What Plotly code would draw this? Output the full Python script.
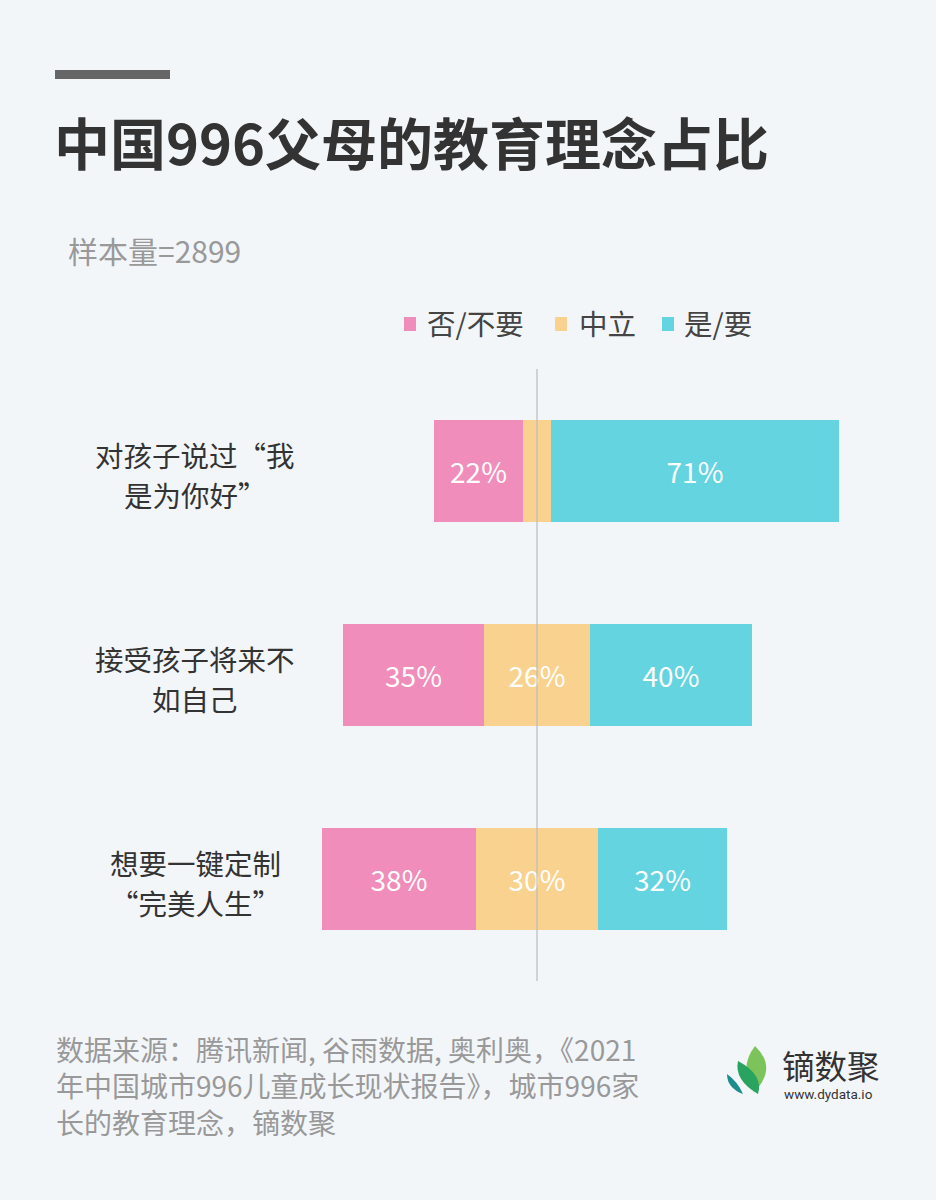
import plotly.graph_objects as go

W, H = 936, 1200
FONT = "Noto Sans CJK SC"

categories = ["对孩子说过“我<br>是为你好”", "接受孩子将来不<br>如自己", "想要一键定制<br>“完美人生”"]
neg_vals = [22, 35, 38]
neu_vals = [7, 26, 30]
pos_vals = [71, 40, 32]
series_names = ["否/不要", "中立", "是/要"]
colors = ["#F08DBA", "#FAD28F", "#63D4E0"]

ypos = list(range(len(categories)))

def px(x):
    return x / W

def py(y):
    return 1 - y / H

fig = go.Figure()

neg_base = [-(n / 2 + g) for g, n in zip(neg_vals, neu_vals)]
neu_base = [-n / 2 for n in neu_vals]
pos_base = [n / 2 for n in neu_vals]

for name, vals, base, col in zip(series_names, [neg_vals, neu_vals, pos_vals],
                                 [neg_base, neu_base, pos_base], colors):
    fig.add_trace(go.Bar(
        y=ypos, x=vals, base=base, orientation="h", name=name,
        marker=dict(color=col, line=dict(width=0)),
        width=0.5,
        text=[f"{v}%" for v in vals],
        textposition="inside", insidetextanchor="middle",
        textfont=dict(color="white", size=28, family=FONT),
        showlegend=False, hoverinfo="skip",
    ))

x0, x1 = 294, 861
fig.update_layout(
    width=W, height=H,
    margin=dict(l=0, r=0, t=0, b=0),
    paper_bgcolor="#F3F6F9", plot_bgcolor="rgba(0,0,0,0)",
    barmode="overlay", bargap=0,
    uniformtext=dict(minsize=28, mode="hide"),
    font=dict(family=FONT),
    xaxis=dict(range=[-60, 80], domain=[px(x0), px(x1)], visible=False, fixedrange=True),
    yaxis=dict(range=[2.5, -0.5], domain=[py(981), py(369)], visible=False, fixedrange=True),
)

shapes = []
# center line
shapes.append(dict(type="line", xref="x", yref="y domain", x0=0, x1=0, y0=0, y1=1,
                   line=dict(color="#BBBBBB", width=1.2), layer="above"))
# top decorative bar
shapes.append(dict(type="rect", xref="paper", yref="paper", x0=px(55), x1=px(170),
                   y0=py(79), y1=py(70), fillcolor="#666666", line=dict(width=0)))

annotations = []
# title
annotations.append(dict(text="<b>中国996父母的教育理念占比</b>", xref="paper", yref="paper",
                        x=px(52), y=py(140), xanchor="left", yanchor="middle", showarrow=False,
                        font=dict(size=56, color="#333333", family=FONT)))
annotations.append(dict(text="样本量=2899", xref="paper", yref="paper",
                        x=px(66), y=py(250), xanchor="left", yanchor="middle", showarrow=False,
                        font=dict(size=30, color="#999999", family=FONT)))

# legend
legend_sq = [404, 555, 662]
legend_tx = [427, 579, 684]
for name, col, sx, tx in zip(series_names, colors, legend_sq, legend_tx):
    shapes.append(dict(type="rect", xref="paper", yref="paper", x0=px(sx), x1=px(sx + 12),
                       y0=py(331), y1=py(317), fillcolor=col, line=dict(width=0)))
    annotations.append(dict(text=name, xref="paper", yref="paper", x=px(tx - 2), y=py(322),
                            xanchor="left", yanchor="middle", showarrow=False,
                            font=dict(size=28.5, color="#444444", family=FONT)))

# category labels (two lines each, placed separately for the reference's line spacing)
for yi, cat in zip(ypos, categories):
    line_a, line_b = cat.split("<br>")
    for txt, shift in ((line_a, 17), (line_b, -23)):
        annotations.append(dict(text=txt, xref="paper", yref="y", x=px(195), y=yi, yshift=shift,
                                xanchor="center", yanchor="middle", align="center", showarrow=False,
                                font=dict(size=28.5, color="#333333", family=FONT)))

# footer
annotations.append(dict(
    text="数据来源：腾讯新闻, 谷雨数据, 奥利奥，《2021<br>年中国城市996儿童成长现状报告》，城市996家<br>长的教育理念，镝数聚",
    xref="paper", yref="paper", x=px(54), y=py(1027), xanchor="left", yanchor="top",
    align="left", showarrow=False, font=dict(size=28, color="#999999", family=FONT)))

# logo text
annotations.append(dict(text="镝数聚", xref="paper", yref="paper", x=px(780), y=py(1064),
                        xanchor="left", yanchor="middle", showarrow=False,
                        font=dict(size=32.5, color="#333333", family=FONT)))
annotations.append(dict(text="www.dydata.io", xref="paper", yref="paper", x=px(782), y=py(1094),
                        xanchor="left", yanchor="middle", showarrow=False,
                        font=dict(size=13.5, color="#333333", family="Roboto")))

def leaf(points, color):
    d = "M{},{} Q{},{} {},{} Q{},{} {},{} Z".format(
        px(points[0][0]), py(points[0][1]),
        px(points[1][0]), py(points[1][1]), px(points[2][0]), py(points[2][1]),
        px(points[3][0]), py(points[3][1]), px(points[0][0]), py(points[0][1]))
    return dict(type="path", xref="paper", yref="paper", path=d, fillcolor=color, line=dict(width=0))

shapes.append(leaf([(755, 1046), (778, 1068), (754, 1092), (738, 1068)], "#7DC35B"))
shapes.append(leaf([(738, 1061), (764, 1075), (758, 1094), (734, 1080)], "#29A35F"))
shapes.append(leaf([(727, 1074), (738, 1082), (743, 1094), (727, 1088)], "#1D8C8C"))

fig.update_layout(shapes=shapes, annotations=annotations)

fig.write_html("out.html", config={"displayModeBar": False},
               post_script="document.body.style.margin='0';")
